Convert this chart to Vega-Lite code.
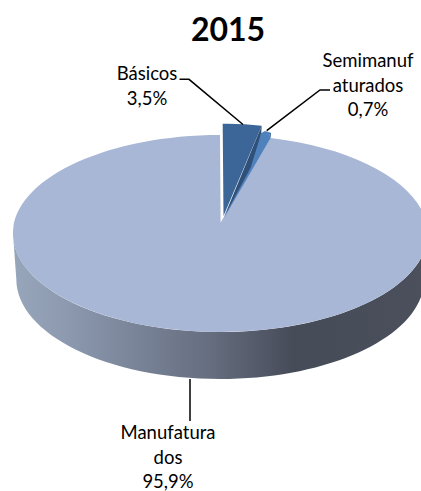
{
"$schema":"https://vega.github.io/schema/vega-lite/v6.json",
"width":421,"height":491,"padding":0,"autosize":{"type":"none"},"background":"white",
"title":{"text":"2015","font":"Lato","fontSize":32,"fontWeight":"bold","color":"#000000","anchor":"middle","baseline":"alphabetic","offset":0,"dx":17.5,"dy":72.5},
"config":{"view":{"stroke":null}},
"data":{"values":[
{"setor":"Manufaturados","valor":95.9,"rotulo":"Manufatura\ndos\n95,9%"},
{"setor":"Básicos","valor":3.5,"rotulo":"Básicos\n3,5%"},
{"setor":"Semimanufaturados","valor":0.7,"rotulo":"Semimanuf\naturados\n0,7%"}
]},
"resolve":{"scale":{"shape":"independent","color":"independent"}},
"layer":[
{"transform":[{"filter":"datum.setor==='Manufaturados'"}],
 "mark":{"type":"point","filled":true,"opacity":1,"strokeWidth":0,"size":4,"fill":{"gradient":"linear","x1":0,"x2":1,"y1":0,"y2":0,"stops":[{"offset":0,"color":"#98A6BC"},{"offset":0.13,"color":"#8C99AF"},{"offset":0.47,"color":"#666E80"},{"offset":0.68,"color":"#464B58"},{"offset":1,"color":"#4B505C"}]}},
 "encoding":{"shape":{"field":"setor","type":"nominal","legend":null,"scale":{"domain":["Manufaturados"],"range":["M-197.5 -12L-194.2 33.5A204 100 0 0 0 213.8 33.5L217.1 -12A207.3 98.5 0 0 1 -197.5 -12Z"]}}}},
{"mark":{"type":"point","filled":true,"opacity":1,"strokeWidth":0,"size":4},
 "encoding":{
  "shape":{"field":"setor","type":"nominal","legend":null,"scale":{"domain":["Manufaturados","Básicos","Semimanufaturados"],"range":["M10.1 -22.9L9.5 -110.5A207.3 98.5 0 1 0 60.2 -107.54Z","M13 -29.5L12.2 -121.7Q32 -122 51.2 -119.8Z","M13.5 -27.5L50.8 -112.5L54.5 -114.5L58 -113.5L60.2 -107.54Z"]}},
  "color":{"field":"setor","type":"nominal","legend":null,"scale":{"domain":["Manufaturados","Básicos","Semimanufaturados"],"range":["#A8B7D6","#3C6698","#4F81BD"]}}}},
{"transform":[{"filter":"datum.setor!=='Manufaturados'"}],
 "mark":{"type":"point","filled":true,"opacity":1,"strokeWidth":0,"size":4},
 "encoding":{
  "shape":{"field":"setor","type":"nominal","legend":null,"scale":{"domain":["Básicos","Semimanufaturados"],"range":["M51.2 -119.8L50.8 -112.5L40 -77.5L13.5 -28.5Z","M58 -113.5L60.5 -112.5L60.2 -107.54Z"]}},
  "color":{"field":"setor","type":"nominal","legend":null,"scale":{"domain":["Básicos","Semimanufaturados"],"range":["#2F5078","#3E6797"]}}}},
{"mark":{"type":"point","filled":false,"opacity":1,"strokeWidth":1.5,"size":4,"stroke":"#000000"},
 "encoding":{"shape":{"field":"setor","type":"nominal","legend":null,"scale":{"domain":["Manufaturados","Básicos","Semimanufaturados"],"range":["M-20.5 133.5L-20.5 175.5","M-31 -166.2L-21.5 -166.2L32.5 -121","M119.5 -155.5L109.5 -155.5L56.2 -114.8"]}}}},
{"mark":{"type":"text","font":"Lato","fontSize":18.5,"lineBreak":"\n","lineHeight":24.5,"align":"center","baseline":"alphabetic","color":"#000000"},
 "encoding":{
  "text":{"field":"rotulo"},
  "x":{"field":"valor","type":"quantitative","axis":null,"scale":{"domain":[0.7,3.5,95.9],"range":[368,147,168],"nice":false,"zero":false}},
  "y":{"field":"valor","type":"quantitative","axis":null,"scale":{"domain":[0.7,3.5,95.9],"range":[67,80,439],"nice":false,"zero":false}}}}
]}
